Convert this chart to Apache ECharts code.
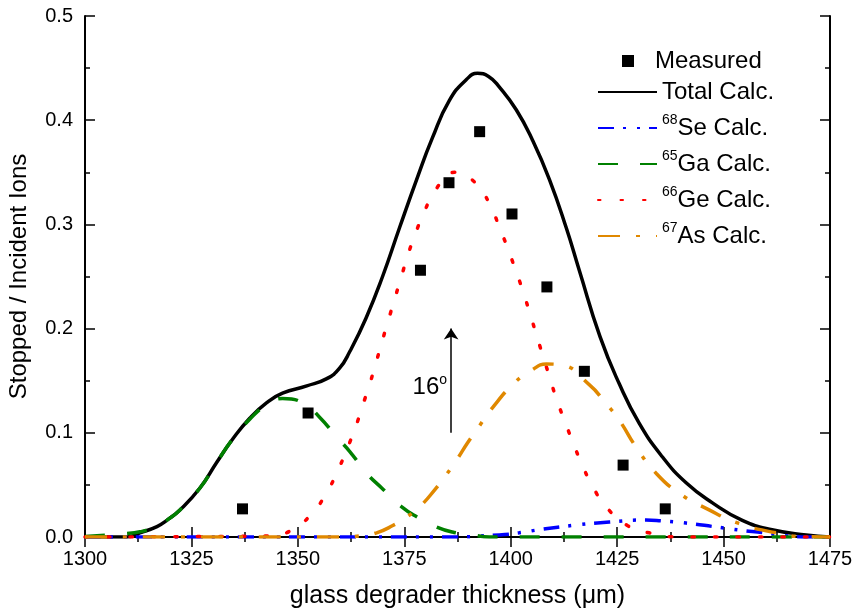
<!DOCTYPE html>
<html><head><meta charset="utf-8">
<script src="https://cdn.jsdelivr.net/npm/echarts@6/dist/echarts.min.js"></script>
<style>html,body{margin:0;padding:0;background:#fff}#c{width:853px;height:612px}</style>
</head><body><div id="c"></div>
<script>
// Measured points
const measuredX = [1337.0, 1352.4, 1378.8, 1385.5, 1392.7, 1400.3, 1408.5, 1417.3, 1426.4, 1436.3];
const measuredY = [0.027, 0.119, 0.256, 0.340, 0.389, 0.310, 0.240, 0.159, 0.069, 0.027];

// Total calc.
const totalX = [1300,1305,1309.9,1312.9,1316.9,1319.2,1322.3,1327,1331,1334.7,1338.7,1342.7,1346.4,1352.1,1356.8,1359.8,1362.2,1366,1369.9,1373.9,1377.9,1381.6,1385.6,1389.6,1392.2,1394.8,1397.3,1401.3,1405.1,1409.1,1413.1,1416.1,1421,1425.5,1430.2,1435.6,1441.2,1447.3,1454.4,1461.4,1469.4,1475];
const totalY = [0,0,0,0.004,0.010,0.016,0.026,0.047,0.072,0.094,0.114,0.129,0.138,0.145,0.152,0.162,0.178,0.210,0.250,0.297,0.343,0.383,0.419,0.439,0.445,0.442,0.432,0.410,0.381,0.343,0.296,0.256,0.192,0.147,0.109,0.077,0.052,0.033,0.016,0.007,0.002,0];

// 68Se calc.
const seX = [1300,1385,1397.3,1402,1406.7,1415.4,1423.2,1431.8,1435.6,1441.2,1448.3,1453.6,1459.9,1465,1470,1475];
const seY = [0,0,0.002,0.004,0.007,0.0115,0.0144,0.0163,0.0154,0.0134,0.0096,0.0067,0.0038,0.001,0,0];

// 65Ga calc.
const gaX = [1300,1305.9,1308.9,1312.9,1316.9,1319.2,1322.3,1327,1331,1334.7,1338.7,1342.7,1346.4,1351.1,1355.1,1359.1,1362.2,1366.2,1369.7,1374.4,1378.1,1382.6,1386.3,1391,1395,1475];
const gaY = [0.0005,0.002,0.003,0.005,0.010,0.016,0.026,0.047,0.072,0.094,0.113,0.127,0.133,0.129,0.115,0.096,0.082,0.061,0.047,0.029,0.019,0.0096,0.0048,0.002,0,0];

// 66Ge calc.
const geX = [1300,1343.4,1348.3,1353.2,1356.8,1359.3,1361.5,1363.6,1365.2,1366.9,1370.6,1374.4,1375.8,1377.6,1379.8,1382.3,1386.8,1391.7,1395.0,1397.1,1399.2,1400.9,1402.7,1405,1407.4,1409.1,1410.7,1412.8,1414.5,1416.6,1419.2,1422.4,1427.4,1432.5,1440,1475];
const geY = [0,0.001,0.006,0.022,0.043,0.063,0.084,0.106,0.126,0.147,0.199,0.251,0.270,0.291,0.313,0.333,0.350,0.340,0.320,0.300,0.278,0.259,0.238,0.208,0.176,0.154,0.133,0.110,0.092,0.071,0.049,0.029,0.011,0.004,0,0];

// 67As calc.
const asX = [1300,1360,1364.5,1368.5,1372.3,1375.5,1378.6,1382.1,1384.9,1387.3,1389.8,1392.2,1395.7,1400.9,1404.9,1408.4,1411.9,1418.5,1422.0,1425.5,1429.5,1434.2,1439.6,1446.6,1453.6,1462.3,1468,1475];
const asY = [0,0,0.001,0.004,0.011,0.019,0.029,0.045,0.060,0.074,0.090,0.104,0.124,0.148,0.160,0.166,0.165,0.146,0.130,0.112,0.086,0.061,0.042,0.026,0.013,0.004,0.0005,0];

// Annotation
const arrowX = 1386;
const arrowY = [0.1, 0.2];
const annotPos = [1381, 0.144];

const FONT = 'Liberation Sans, Arial, Helvetica, sans-serif';
const zip = (xs, ys) => xs.map((x, i) => [x, ys[i]]);

const legendRich = {
  m: {fontSize: 24, lineHeight: 30, fontFamily: FONT, color: '#000'},
  s: {fontSize: 14, lineHeight: 14, verticalAlign: 'top', fontFamily: FONT, color: '#000'},
  p: {fontSize: 24, lineHeight: 30, fontFamily: FONT, color: '#000', padding: [0, 0, 0, 16]}
};
const legendText = {
  'Measured': '{p|Measured}',
  'Total Calc.': '{m|Total Calc.}',
  '68Se Calc.': '{s|68}{m|Se Calc.}',
  '65Ga Calc.': '{s|65}{m|Ga Calc.}',
  '66Ge Calc.': '{s|66}{m|Ge Calc.}',
  '67As Calc.': '{s|67}{m|As Calc.}'
};

function lineSeries(name, xs, ys, color, type, width, cap) {
  return {
    name, type: 'line', data: zip(xs, ys), symbol: 'none', showSymbol: false,
    smooth: 0.5, silent: true,
    lineStyle: {color, width, type, cap: cap || 'butt'},
    itemStyle: {color}
  };
}

const baseAxis = {
  axisLine: {lineStyle: {color: '#000', width: 2}},
  axisTick: {inside: true, length: 10, lineStyle: {color: '#000', width: 1.5}},
  minorTick: {show: true, splitNumber: 2, length: 5, lineStyle: {color: '#000', width: 1.5}},
  splitLine: {show: false},
  minorSplitLine: {show: false}
};

const total = lineSeries('Total Calc.', totalX, totalY, '#000000', 'solid', 3.5);
total.markLine = {
  silent: true, animation: false,
  symbol: ['none', 'arrow'], symbolSize: 11,
  lineStyle: {color: '#000', width: 1.5, type: 'solid'},
  label: {show: false},
  data: [[{coord: [arrowX, arrowY[0]]}, {coord: [arrowX, arrowY[1]]}]]
};
total.markPoint = {
  silent: true, animation: false,
  symbol: 'circle', symbolSize: 0,
  data: [{coord: annotPos}],
  label: {
    show: true, position: 'inside',
    formatter: '{a|16}{b|o}',
    rich: {
      a: {fontSize: 24, lineHeight: 28, fontFamily: FONT, color: '#000'},
      b: {fontSize: 14, lineHeight: 14, verticalAlign: 'top', fontFamily: FONT, color: '#000'}
    }
  }
};

const chart = echarts.init(document.getElementById('c'), null, {renderer: 'canvas'});
chart.setOption({
  animation: false,
  backgroundColor: '#fff',
  grid: {left: 85, right: 23, top: 16, bottom: 75, containLabel: false, outerBoundsMode: 'none'},
  legend: [
    {
      data: ['Measured'], orient: 'vertical', left: 622, top: 49, padding: 0,
      itemWidth: 12, itemHeight: 12, icon: 'rect', selectedMode: false,
      itemStyle: {color: '#000', opacity: 1},
      formatter: n => legendText[n], textStyle: {rich: legendRich}
    },
    {
      data: ['Total Calc.', '68Se Calc.', '65Ga Calc.', '66Ge Calc.', '67As Calc.'],
      orient: 'vertical', left: 597, top: 80, padding: 0, itemWidth: 59, itemHeight: 12, itemGap: 9,
      selectedMode: false,
      itemStyle: {color: 'rgba(0,0,0,0)', borderColor: 'rgba(0,0,0,0)', borderWidth: 0},
      formatter: n => legendText[n], textStyle: {rich: legendRich}
    }
  ],
  xAxis: [
    Object.assign({}, baseAxis, {
      type: 'value', position: 'bottom', min: 1300, max: 1475, interval: 25,
      name: 'glass degrader thickness (μm)', nameLocation: 'middle', nameGap: 47,
      nameTextStyle: {fontSize: 25, fontFamily: FONT, color: '#000'},
      axisLabel: {fontSize: 20, fontFamily: FONT, color: '#000', margin: 12, formatter: v => String(v)}
    }),
    Object.assign({}, baseAxis, {
      type: 'value', position: 'top', min: 1300, max: 1475, interval: 25,
      axisLabel: {show: false}
    })
  ],
  yAxis: [
    Object.assign({}, baseAxis, {
      type: 'value', position: 'left', min: 0, max: 0.5, interval: 0.1,
      name: 'Stopped / Incident Ions', nameLocation: 'middle', nameGap: 54,
      nameTextStyle: {fontSize: 24, fontFamily: FONT, color: '#000'},
      axisLabel: {fontSize: 20, fontFamily: FONT, color: '#000', margin: 12, formatter: v => v.toFixed(1)}
    }),
    Object.assign({}, baseAxis, {
      type: 'value', position: 'right', min: 0, max: 0.5, interval: 0.1,
      axisLabel: {show: false}
    })
  ],
  series: [
    total,
    lineSeries('68Se Calc.', seX, seY, '#0000ff', [16, 9, 3, 11, 3, 9], 3.5),
    lineSeries('65Ga Calc.', gaX, gaY, '#008000', [20, 22], 3.5),
    lineSeries('66Ge Calc.', geX, geY, '#ff0000', [2.5, 20], 3.5, 'round'),
    lineSeries('67As Calc.', asX, asY, '#e08800', [22, 16, 4, 16], 3.5),
    {
      name: 'Measured', type: 'scatter', data: zip(measuredX, measuredY),
      symbol: 'rect', symbolSize: 11, itemStyle: {color: '#000', opacity: 1}, silent: true, z: 5
    }
  ]
});
</script>
</body></html>
